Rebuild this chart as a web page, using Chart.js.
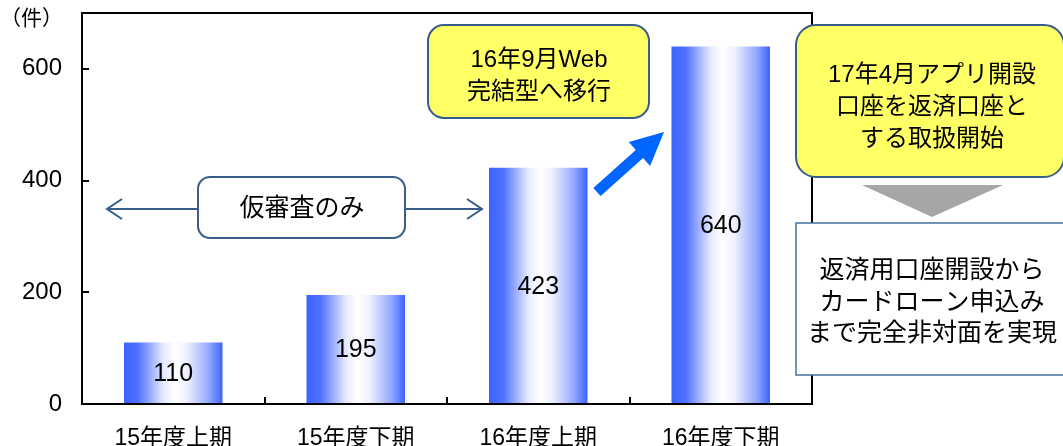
<!DOCTYPE html>
<html>
<head>
<meta charset="utf-8">
<script src="https://cdn.jsdelivr.net/npm/chart.js@4"></script>
<style>
  html, body { margin: 0; padding: 0; background: #fff; }
  #wrap { width: 1063px; height: 446px; }
</style>
</head>
<body>
<div id="wrap"><canvas id="chart" width="1063" height="446"></canvas></div>
<script>
var categories = ['15年度上期', '15年度下期', '16年度上期', '16年度下期'];
var counts = [110, 195, 423, 640];
var yTicks = [0, 200, 400, 600];
var yMax = 700;

var FONT = '"Liberation Sans", "Noto Sans CJK JP", sans-serif';

function barGradient(ctx) {
  var chart = ctx.chart;
  var x = chart.scales && chart.scales.x;
  if (!chart.chartArea || !x || ctx.dataIndex === undefined) return '#3F66FF';
  var cx = x.getPixelForValue(ctx.dataIndex);
  var w = (x.width / categories.length) * 0.54;
  var g = chart.ctx.createLinearGradient(cx - w / 2, 0, cx + w / 2, 0);
  g.addColorStop(0, '#3D63FF');
  g.addColorStop(0.14, '#4E70FF');
  g.addColorStop(0.4, '#E6EAFF');
  g.addColorStop(0.52, '#FFFFFF');
  g.addColorStop(0.64, '#EEF0FF');
  g.addColorStop(0.86, '#94A9FF');
  g.addColorStop(1, '#3D63FF');
  return g;
}

function roundRect(c, x, y, w, h, r) {
  c.beginPath();
  c.moveTo(x + r, y);
  c.lineTo(x + w - r, y);
  c.arcTo(x + w, y, x + w, y + r, r);
  c.lineTo(x + w, y + h - r);
  c.arcTo(x + w, y + h, x + w - r, y + h, r);
  c.lineTo(x + r, y + h);
  c.arcTo(x, y + h, x, y + h - r, r);
  c.lineTo(x, y + r);
  c.arcTo(x, y, x + r, y, r);
  c.closePath();
}

function lines(c, texts, cx, cy, gap) {
  var start = cy - (texts.length - 1) * gap / 2;
  texts.forEach(function (t, i) { c.fillText(t, cx, start + i * gap); });
}

// block arrow from (x0,y0) to tip (x1,y1)
function blockArrow(c, x0, y0, x1, y1, shaftHalf, headLen, headHalf) {
  var dx = x1 - x0, dy = y1 - y0, len = Math.sqrt(dx * dx + dy * dy);
  var ux = dx / len, uy = dy / len, nx = -uy, ny = ux;
  var bx = x1 - ux * headLen, by = y1 - uy * headLen;
  c.beginPath();
  c.moveTo(x0 + nx * shaftHalf, y0 + ny * shaftHalf);
  c.lineTo(bx + nx * shaftHalf, by + ny * shaftHalf);
  c.lineTo(bx + nx * headHalf, by + ny * headHalf);
  c.lineTo(x1, y1);
  c.lineTo(bx - nx * headHalf, by - ny * headHalf);
  c.lineTo(bx - nx * shaftHalf, by - ny * shaftHalf);
  c.lineTo(x0 - nx * shaftHalf, y0 - ny * shaftHalf);
  c.closePath();
  c.fill();
}

var framePlugin = {
  id: 'frame',
  afterDatasetsDraw: function (chart) {
    var c = chart.ctx, a = chart.chartArea;
    var xs = chart.scales.x, ys = chart.scales.y;
    c.save();
    c.strokeStyle = '#000';
    c.lineWidth = 2;
    c.strokeRect(a.left, a.top, a.right - a.left, a.bottom - a.top);
    // inward ticks
    c.beginPath();
    yTicks.forEach(function (v) {
      if (v === 0) return;
      var y = Math.round(ys.getPixelForValue(v));
      c.moveTo(a.left, y); c.lineTo(a.left + 7, y);
    });
    var step = xs.width / categories.length;
    for (var i = 1; i < categories.length; i++) {
      var x = Math.round(a.left + step * i);
      c.moveTo(x, a.bottom); c.lineTo(x, a.bottom - 7);
    }
    c.stroke();

    // value labels in the middle of bars
    c.fillStyle = '#000';
    c.font = '25px ' + FONT;
    c.textAlign = 'center';
    c.textBaseline = 'middle';
    chart.getDatasetMeta(0).data.forEach(function (bar, i) {
      c.fillText(String(counts[i]), bar.x, (bar.y + bar.base) / 2 + 1);
    });

    // unit
    c.font = '21px ' + FONT;
    c.textAlign = 'left';
    c.fillText('（件）', 0, 19);
    c.restore();
  },
  afterDraw: function (chart) {
    var c = chart.ctx;
    var ys = chart.scales.y;
    c.save();
    c.textAlign = 'center';
    c.textBaseline = 'middle';

    // 仮審査のみ span
    var ay = Math.round(ys.getPixelForValue(350));
    c.strokeStyle = '#385D8A';
    c.lineWidth = 2;
    c.beginPath();
    c.moveTo(107, ay); c.lineTo(198, ay);
    c.moveTo(405, ay); c.lineTo(482, ay);
    c.moveTo(122, ay - 10); c.lineTo(107, ay); c.lineTo(122, ay + 10);
    c.moveTo(467, ay - 10); c.lineTo(482, ay); c.lineTo(467, ay + 10);
    c.stroke();
    roundRect(c, 198, 177, 207, 61, 12);
    c.fillStyle = '#fff';
    c.fill();
    c.stroke();
    c.fillStyle = '#000';
    c.font = '25px ' + FONT;
    c.fillText('仮審査のみ', 302, 209);

    // yellow callout 1
    roundRect(c, 428, 25, 221, 93, 16);
    c.fillStyle = '#FFFF66';
    c.fill();
    c.strokeStyle = '#385D8A';
    c.stroke();
    c.fillStyle = '#000';
    c.font = '24px ' + FONT;
    lines(c, ['16年9月Web', '完結型へ移行'], 539, 76, 32);

    // blue arrow
    c.fillStyle = '#0066FF';
    blockArrow(c, 597, 192, 664, 132, 5.5, 33, 16);

    // yellow callout 2
    roundRect(c, 796, 25, 268, 152, 20);
    c.fillStyle = '#FFFF66';
    c.fill();
    c.strokeStyle = '#385D8A';
    c.stroke();
    c.fillStyle = '#000';
    c.font = '24px ' + FONT;
    lines(c, ['17年4月アプリ開設', '口座を返済口座と', 'する取扱開始'], 932, 107, 32);

    // gray down arrow
    c.fillStyle = '#A6A6A6';
    c.beginPath();
    c.moveTo(862, 185); c.lineTo(1003, 185); c.lineTo(932, 217);
    c.closePath();
    c.fill();

    // result box
    c.fillStyle = '#fff';
    c.fillRect(796, 223, 280, 152);
    c.strokeStyle = '#41719C';
    c.lineWidth = 1.5;
    c.strokeRect(796, 223, 280, 152);
    c.fillStyle = '#000';
    c.font = '25px ' + FONT;
    lines(c, ['返済用口座開設から', 'カードローン申込み', 'まで完全非対面を実現'], 932, 303, 31.5);
    c.restore();
  }
};

new Chart(document.getElementById('chart').getContext('2d'), {
  type: 'bar',
  data: {
    labels: categories,
    datasets: [{
      data: counts,
      backgroundColor: barGradient,
      borderWidth: 0,
      categoryPercentage: 1,
      barPercentage: 0.54
    }]
  },
  options: {
    responsive: false,
    animation: false,
    layout: { padding: { left: 0, right: 251, top: 13, bottom: 0 } },
    plugins: { legend: { display: false }, tooltip: { enabled: false } },
    scales: {
      x: {
        grid: { display: false, drawTicks: false },
        border: { display: false },
        ticks: { color: '#000', font: { size: 23, family: FONT }, padding: 21, maxRotation: 0 },
        afterFit: function (s) { s.height = 42; s.paddingLeft = 0; s.paddingRight = 0; }
      },
      y: {
        min: 0,
        max: yMax,
        grid: { display: false, drawTicks: false },
        border: { display: false },
        ticks: { color: '#000', font: { size: 24, family: FONT }, padding: 20 },
        afterBuildTicks: function (s) { s.ticks = yTicks.map(function (v) { return { value: v }; }); },
        afterFit: function (s) { s.width = 82; s.paddingTop = 0; s.paddingBottom = 0; }
      }
    }
  },
  plugins: [framePlugin]
});
</script>
</body>
</html>
